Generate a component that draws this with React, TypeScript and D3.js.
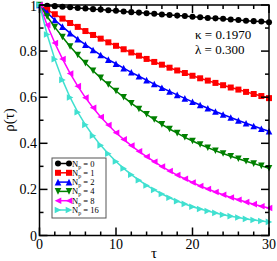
import { useEffect, useRef } from 'react';
import * as d3 from 'd3';

const tau = d3.range(0, 31);

const rhoN0 = [1.000, 0.997, 0.995, 0.992, 0.990, 0.987, 0.985, 0.982, 0.980, 0.977, 0.975, 0.972, 0.969, 0.967, 0.964, 0.962, 0.959, 0.957, 0.954, 0.952, 0.949, 0.947, 0.944, 0.942, 0.940, 0.937, 0.935, 0.932, 0.930, 0.928, 0.925];
const rhoN1 = [1.000, 0.979, 0.960, 0.941, 0.922, 0.905, 0.887, 0.870, 0.854, 0.838, 0.823, 0.808, 0.794, 0.780, 0.766, 0.753, 0.741, 0.728, 0.716, 0.705, 0.693, 0.682, 0.672, 0.662, 0.652, 0.642, 0.633, 0.623, 0.614, 0.605, 0.596];
const rhoN2 = [1.000, 0.967, 0.935, 0.906, 0.878, 0.852, 0.828, 0.805, 0.783, 0.763, 0.745, 0.726, 0.708, 0.691, 0.674, 0.657, 0.641, 0.625, 0.610, 0.595, 0.580, 0.566, 0.552, 0.538, 0.525, 0.512, 0.499, 0.487, 0.475, 0.463, 0.452];
const rhoN4 = [1.000, 0.950, 0.904, 0.861, 0.820, 0.783, 0.748, 0.715, 0.684, 0.655, 0.627, 0.600, 0.574, 0.549, 0.526, 0.503, 0.482, 0.462, 0.444, 0.426, 0.410, 0.395, 0.381, 0.368, 0.356, 0.344, 0.333, 0.322, 0.312, 0.302, 0.292];
const rhoN8 = [1.000, 0.913, 0.835, 0.766, 0.703, 0.648, 0.598, 0.554, 0.514, 0.479, 0.446, 0.417, 0.390, 0.365, 0.342, 0.320, 0.299, 0.280, 0.262, 0.246, 0.230, 0.215, 0.202, 0.189, 0.177, 0.165, 0.155, 0.145, 0.136, 0.127, 0.119];
const rhoN16 = [1.000, 0.872, 0.765, 0.675, 0.599, 0.535, 0.480, 0.433, 0.391, 0.355, 0.321, 0.291, 0.264, 0.240, 0.217, 0.198, 0.180, 0.164, 0.149, 0.137, 0.125, 0.115, 0.106, 0.098, 0.090, 0.084, 0.078, 0.072, 0.067, 0.063, 0.059];

const seriesNp = ['0', '1', '2', '4', '8', '16'];
const seriesValues = [rhoN0, rhoN1, rhoN2, rhoN4, rhoN8, rhoN16];
const seriesColors = ['#000000', '#ff0000', '#0000ff', '#008000', '#ff00ff', '#40e0d0'];
const seriesMarkers = ['circle', 'square', 'up', 'down', 'left', 'right'];

const xTicks = [0, 10, 20, 30];
const yTicks = [0, 0.2, 0.4, 0.6, 0.8, 1];
const yTickLabels = ['0', '0.2', '0.4', '0.6', '0.8', '1'];

function markerPath(kind: string, s: number) {
  if (kind === 'circle') return d3.symbol(d3.symbolCircle, s * s * 0.8)();
  if (kind === 'square') return `M${-s / 2},${-s / 2}h${s}v${s}h${-s}Z`;
  const h = s * 0.55;
  if (kind === 'up') return `M0,${-h}L${h},${h}L${-h},${h}Z`;
  if (kind === 'down') return `M0,${h}L${h},${-h}L${-h},${-h}Z`;
  if (kind === 'left') return `M${-h},0L${h},${-h}L${h},${h}Z`;
  return `M${h},0L${-h},${-h}L${-h},${h}Z`;
}

function App() {
  const svgRef = useRef<SVGSVGElement>(null);

  useEffect(() => {
    const width = 277;
    const height = 261;
    const left = 39.5, right = 269, top = 5, bottom = 235.5;

    const svg = d3.select(svgRef.current)
      .attr('width', width)
      .attr('height', height);
    svg.selectAll('*').remove();

    const x = d3.scaleLinear().domain([0, 30]).range([left, right]);
    const y = d3.scaleLinear().domain([0, 1]).range([bottom, top]);

    const font = "'Liberation Serif', 'Times New Roman', serif";

    // curves
    const line = d3.line<number>()
      .x((d, i) => x(tau[i]))
      .y(d => y(d));

    const plot = svg.append('g');
    seriesValues.forEach((vals, k) => {
      plot.append('path')
        .attr('d', line(vals))
        .attr('fill', 'none')
        .attr('stroke', seriesColors[k])
        .attr('stroke-width', 1.5);
      plot.selectAll(null)
        .data(vals)
        .enter().append('path')
        .attr('transform', (d, i) => `translate(${x(tau[i])},${y(d)})`)
        .attr('d', markerPath(seriesMarkers[k], 6))
        .attr('fill', seriesColors[k]);
    });

    // frame and ticks
    const axes = svg.append('g').attr('stroke', '#000').attr('stroke-width', 1.5);
    axes.append('rect')
      .attr('x', left).attr('y', top)
      .attr('width', right - left).attr('height', bottom - top)
      .attr('fill', 'none');

    d3.range(0, 31, 2).forEach(v => {
      const len = v % 10 === 0 ? 8 : 4;
      axes.append('line').attr('x1', x(v)).attr('x2', x(v)).attr('y1', bottom).attr('y2', bottom - len);
      axes.append('line').attr('x1', x(v)).attr('x2', x(v)).attr('y1', top).attr('y2', top + len);
    });
    d3.range(0, 11).forEach(i => {
      const v = i / 10;
      const len = i % 2 === 0 ? 8 : 4;
      axes.append('line').attr('x1', left).attr('x2', left + len).attr('y1', y(v)).attr('y2', y(v));
      axes.append('line').attr('x1', right).attr('x2', right - len).attr('y1', y(v)).attr('y2', y(v));
    });

    // tick labels
    const texts = svg.append('g').style('font-family', font);

    texts.selectAll('.xt')
      .data(xTicks)
      .enter().append('text')
      .attr('x', d => x(d))
      .attr('y', 249)
      .attr('text-anchor', 'middle')
      .attr('font-size', 14)
      .text(d => d);

    texts.selectAll('.yt')
      .data(yTicks)
      .enter().append('text')
      .attr('x', 37)
      .attr('y', d => Math.max(y(d) + 5, 11))
      .attr('text-anchor', 'end')
      .attr('font-size', 14)
      .text((d, i) => yTickLabels[i]);

    texts.append('text')
      .attr('x', 154)
      .attr('y', 258)
      .attr('text-anchor', 'middle')
      .attr('font-size', 15)
      .text('τ');

    texts.append('text')
      .attr('transform', 'translate(14,120) rotate(-90)')
      .attr('text-anchor', 'middle')
      .attr('font-size', 15)
      .text('ρ(τ)');

    // parameters
    texts.append('text')
      .attr('x', 195).attr('y', 39)
      .attr('font-size', 13)
      .text('κ = 0.1970');
    texts.append('text')
      .attr('x', 195).attr('y', 54)
      .attr('font-size', 13)
      .text('λ = 0.300');

    // legend
    const lg = svg.append('g').style('font-family', font);
    lg.append('rect')
      .attr('x', 52).attr('y', 158)
      .attr('width', 54).attr('height', 60)
      .attr('fill', '#fff')
      .attr('stroke', '#555')
      .attr('stroke-width', 1);
    seriesNp.forEach((n, k) => {
      const ly = 163.5 + k * 9.3;
      lg.append('line')
        .attr('x1', 58).attr('x2', 69)
        .attr('y1', ly).attr('y2', ly)
        .attr('stroke', seriesColors[k]).attr('stroke-width', 1.5);
      [58, 69].forEach(px => {
        lg.append('path')
          .attr('transform', `translate(${px},${ly})`)
          .attr('d', markerPath(seriesMarkers[k], 6))
          .attr('fill', seriesColors[k]);
      });
      const t = lg.append('text')
        .attr('x', 72).attr('y', ly + 3)
        .attr('font-size', 8.5);
      t.append('tspan').text('N');
      t.append('tspan').attr('dy', 2).attr('font-size', 6).text('p');
      t.append('tspan').attr('dy', -2).text(` = ${n}`);
    });
  }, []);

  return <svg ref={svgRef} style={{ position: 'absolute', left: 0, top: 0 }}></svg>;
}

export default App;
